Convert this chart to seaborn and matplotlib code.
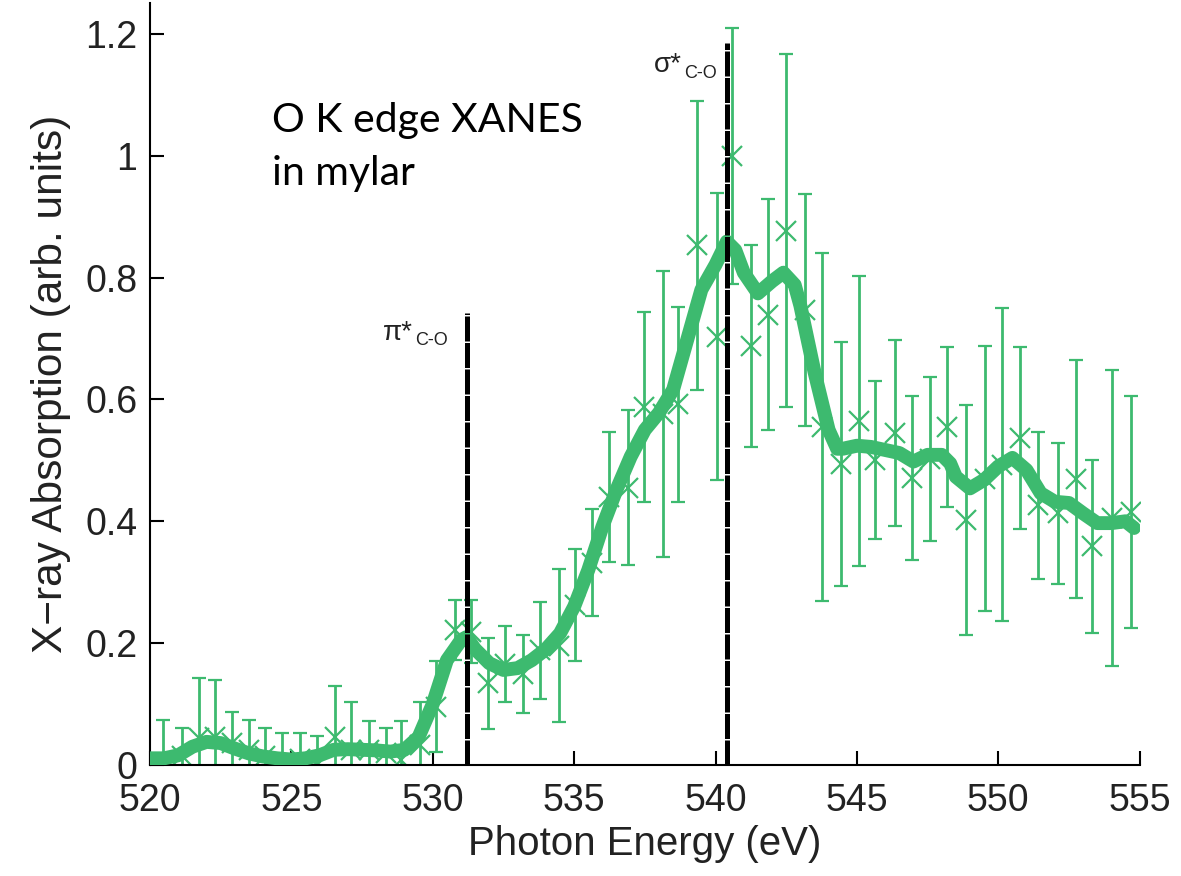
import matplotlib
matplotlib.use('Agg')
import matplotlib.pyplot as plt
import seaborn as sns
import numpy as np
from matplotlib.ticker import FuncFormatter

# measured points (photon energy, absorption, error)
energy = [520.46, 521.13, 521.73, 522.30, 522.90, 523.50, 524.06, 524.66, 525.30, 525.90,
          526.54, 527.10, 527.74, 528.34, 528.87, 529.54, 530.11, 530.78, 531.34, 531.94,
          532.54, 533.18, 533.78, 534.45, 535.02, 535.62, 536.22, 536.89, 537.46, 538.13,
          538.66, 539.33, 540.04, 540.57, 541.27, 541.84, 542.51, 543.18, 543.78, 544.45,
          545.09, 545.65, 546.33, 546.96, 547.60, 548.20, 548.87, 549.54, 550.14, 550.78,
          551.41, 552.12, 552.76, 553.32, 554.03, 554.70]
absorb = [0.0, 0.014, 0.044, 0.046, 0.036, 0.025, 0.015, 0.0, 0.01, 0.0,
          0.046, 0.025, 0.025, 0.02, 0.008, 0.033, 0.096, 0.222, 0.219, 0.134,
          0.166, 0.15, 0.188, 0.196, 0.262, 0.332, 0.44, 0.455, 0.588, 0.576,
          0.592, 0.853, 0.703, 0.999, 0.688, 0.739, 0.877, 0.747, 0.555, 0.494,
          0.564, 0.501, 0.545, 0.471, 0.502, 0.555, 0.402, 0.47, 0.493, 0.537,
          0.426, 0.413, 0.469, 0.359, 0.405, 0.415]
err = [0.074, 0.047, 0.099, 0.094, 0.051, 0.049, 0.046, 0.052, 0.042, 0.048,
       0.084, 0.079, 0.048, 0.041, 0.065, 0.071, 0.074, 0.049, 0.052, 0.075,
       0.062, 0.064, 0.079, 0.125, 0.092, 0.088, 0.107, 0.127, 0.156, 0.234,
       0.16, 0.237, 0.236, 0.21, 0.166, 0.19, 0.29, 0.19, 0.286, 0.2,
       0.238, 0.13, 0.152, 0.134, 0.134, 0.131, 0.189, 0.217, 0.257, 0.149,
       0.121, 0.116, 0.195, 0.142, 0.243, 0.19]

# smoothed curve
smooth_e = [520, 520.5, 521, 521.5, 522, 522.5, 523, 523.5, 524, 524.5, 525, 525.5, 526, 526.5,
            527, 527.5, 528, 528.5, 529, 529.5, 530, 530.5, 531, 531.2, 531.5, 532, 532.5, 533,
            533.5, 534, 534.5, 535, 535.5, 536, 536.5, 537, 537.5, 538, 538.5, 539, 539.5, 540,
            540.4, 540.7, 541, 541.5, 542, 542.4, 542.8, 543, 543.5, 544, 544.3, 544.5, 545,
            545.5, 546, 546.5, 547, 547.5, 548, 548.3, 548.5, 549, 549.5, 550, 550.5, 551,
            551.5, 552, 552.5, 553, 553.5, 554, 554.5, 554.8]
smooth_v = [0.011, 0.011, 0.016, 0.03, 0.038, 0.036, 0.027, 0.019, 0.014, 0.011, 0.009, 0.011,
            0.016, 0.025, 0.026, 0.025, 0.024, 0.022, 0.025, 0.046, 0.1, 0.172, 0.205, 0.21,
            0.19, 0.167, 0.156, 0.159, 0.172, 0.19, 0.216, 0.26, 0.32, 0.391, 0.452, 0.506,
            0.55, 0.578, 0.616, 0.698, 0.78, 0.821, 0.859, 0.845, 0.808, 0.774, 0.794, 0.808,
            0.788, 0.754, 0.645, 0.55, 0.519, 0.519, 0.524, 0.522, 0.517, 0.512, 0.498, 0.509,
            0.509, 0.495, 0.473, 0.454, 0.468, 0.49, 0.504, 0.484, 0.446, 0.432, 0.43, 0.413,
            0.397, 0.397, 0.4, 0.389]

# resonance markers
peak_pos = [531.2, 540.4]
peak_top = [0.742, 1.185]

sns.set_style('ticks')
plt.rcParams['font.family'] = ['Liberation Sans', 'DejaVu Sans']
green = '#3dba6f'
txt = '#222222'

fig = plt.figure(figsize=(11.81, 8.76), dpi=100)
ax = fig.add_axes([0.127, 0.1267, 0.838, 0.8695])

ax.errorbar(energy, absorb, yerr=err, fmt='x', color=green, ms=15, mew=1.6,
            elinewidth=2.0, capsize=5, capthick=2.0, zorder=2)
sns.lineplot(x=smooth_e, y=smooth_v, ax=ax, color=green, lw=10, zorder=3,
             solid_capstyle='round')
ax.vlines(peak_pos, 0, peak_top, colors='black', lw=3.6,
          linestyles=[(0, (5, 0.3))], zorder=4)

ax.text(529.28, 0.698, 'π*', fontsize=20, ha='right', va='baseline', color=txt)
ax.text(529.36, 0.690, 'C-O', fontsize=13, ha='left', va='baseline', color=txt)
ax.text(538.8, 1.138, 'σ*', fontsize=20, ha='right', va='baseline', color=txt)
ax.text(538.9, 1.128, 'C-O', fontsize=13, ha='left', va='baseline', color=txt)

ax.text(524.31, 1.039, 'O K edge XANES', fontsize=29.5, family='Lato', color='black')
ax.text(524.31, 0.952, 'in mylar', fontsize=29.5, family='Lato', color='black')

ax.set_xlim(520, 555)
ax.set_ylim(0, 1.25)
ax.set_xticks([520, 525, 530, 535, 540, 545, 550, 555])
ax.set_yticks([0, 0.2, 0.4, 0.6, 0.8, 1.0, 1.2])
ax.yaxis.set_major_formatter(FuncFormatter(lambda v, p: '%g' % v))
ax.tick_params(direction='in', length=10, width=1.5, labelsize=27,
               colors='black', labelcolor=txt)
ax.tick_params(axis='x', pad=13)
ax.tick_params(axis='y', pad=9)
for s in ['top', 'right']:
    ax.spines[s].set_visible(False)
for s in ['left', 'bottom']:
    ax.spines[s].set_linewidth(1.5)
    ax.spines[s].set_color('black')

ax.set_xlabel('Photon Energy (eV)', fontsize=29, color=txt, labelpad=4)
ax.set_ylabel('X\u2212ray Absorption (arb. units)', fontsize=30.5, color=txt, labelpad=10)

fig.savefig('out.png', dpi=100)
